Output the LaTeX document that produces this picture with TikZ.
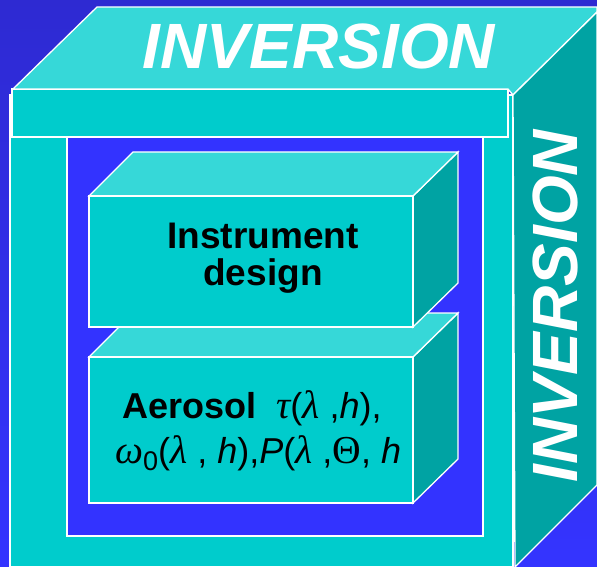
\documentclass[tikz,border=0pt]{standalone}
\usepackage{fontspec}
\setmainfont{Liberation Sans}
\newfontfamily\grkfont[Scale=1.1]{Liberation Serif}
\usepackage{xcolor}
\usepackage{tikz}
\usetikzlibrary{positioning}

\definecolor{bgtop}{HTML}{2E2AD2}
\definecolor{bgbot}{HTML}{3434FF}
\definecolor{topcyan}{HTML}{36D8D8}
\definecolor{frontcyan}{HTML}{00CCCC}
\definecolor{sidecyan}{HTML}{00A3A3}
\definecolor{winblue}{HTML}{3333FF}

\newcommand{\grk}[1]{{\grkfont\itshape #1}}

\begin{document}
\begin{tikzpicture}[x=1pt, y=-1pt,
    edge/.style={draw=white, line width=1.3pt, line join=miter},
    topface/.style={edge, fill=topcyan},
    frontface/.style={edge, fill=frontcyan},
    sideface/.style={edge, fill=sidecyan},
    bigword/.style={text=white, inner sep=0pt,
        font=\fontsize{64}{64}\selectfont\bfseries\itshape},
    boxtext/.style={text=black, inner sep=0pt, align=center,
        font=\fontsize{37}{37}\selectfont\bfseries},
    mathtext/.style={text=black, inner sep=0pt, anchor=base west,
        font=\fontsize{36}{36}\selectfont}]
    \shade[top color=bgtop, bottom color=bgbot] (0,0) rectangle (597,567);
    \useasboundingbox (0,0) rectangle (597,567);
    % outer frame
    \draw[frontface] (10,95) rectangle (513,567);
    \draw[edge, fill=winblue] (67,137) rectangle (483,536);
    \draw[frontface] (12,89) rectangle (508,137);
    \draw[topface] (13,89) -- (97,7) -- (597,7) -- (597,12) -- (513,95) -- (508,89) -- cycle;
    \draw[sideface] (513,95) -- (597,12) -- (597,485) -- (515,567) -- cycle;
    % inner boxes, lower one first
    \foreach \t/\b in {313/503, 152/327} {
        \draw[sideface] (413,\t+44) -- (458,\t) -- (458,\b-44) -- (413,\b) -- cycle;
        \draw[topface] (89,\t+44) -- (133,\t) -- (458,\t) -- (413,\t+44) -- cycle;
        \draw[frontface] (89,\t+44) rectangle (413,\b);
    }
    \node[bigword] (topword) at (319,46) {INVERSION};
    \node[bigword, rotate=90] (sideword) at (555,306) {INVERSION};
    \node[boxtext] (instrument) at (263,258) {Instrument\\design};
    \node[mathtext] (aerosol) at (122,418)
        {\textbf{Aerosol}\ \ \grk{τ}(\grk{λ} ,\textit{h}),};
    \node[mathtext] (params) at (115,463)
        {\grk{ω}\raisebox{-7pt}{\fontsize{27}{27}\selectfont 0}(\grk{λ} , \textit{h}),\textit{P}(\grk{λ} ,{\grkfont Θ}, \textit{h}};
\end{tikzpicture}
\end{document}
